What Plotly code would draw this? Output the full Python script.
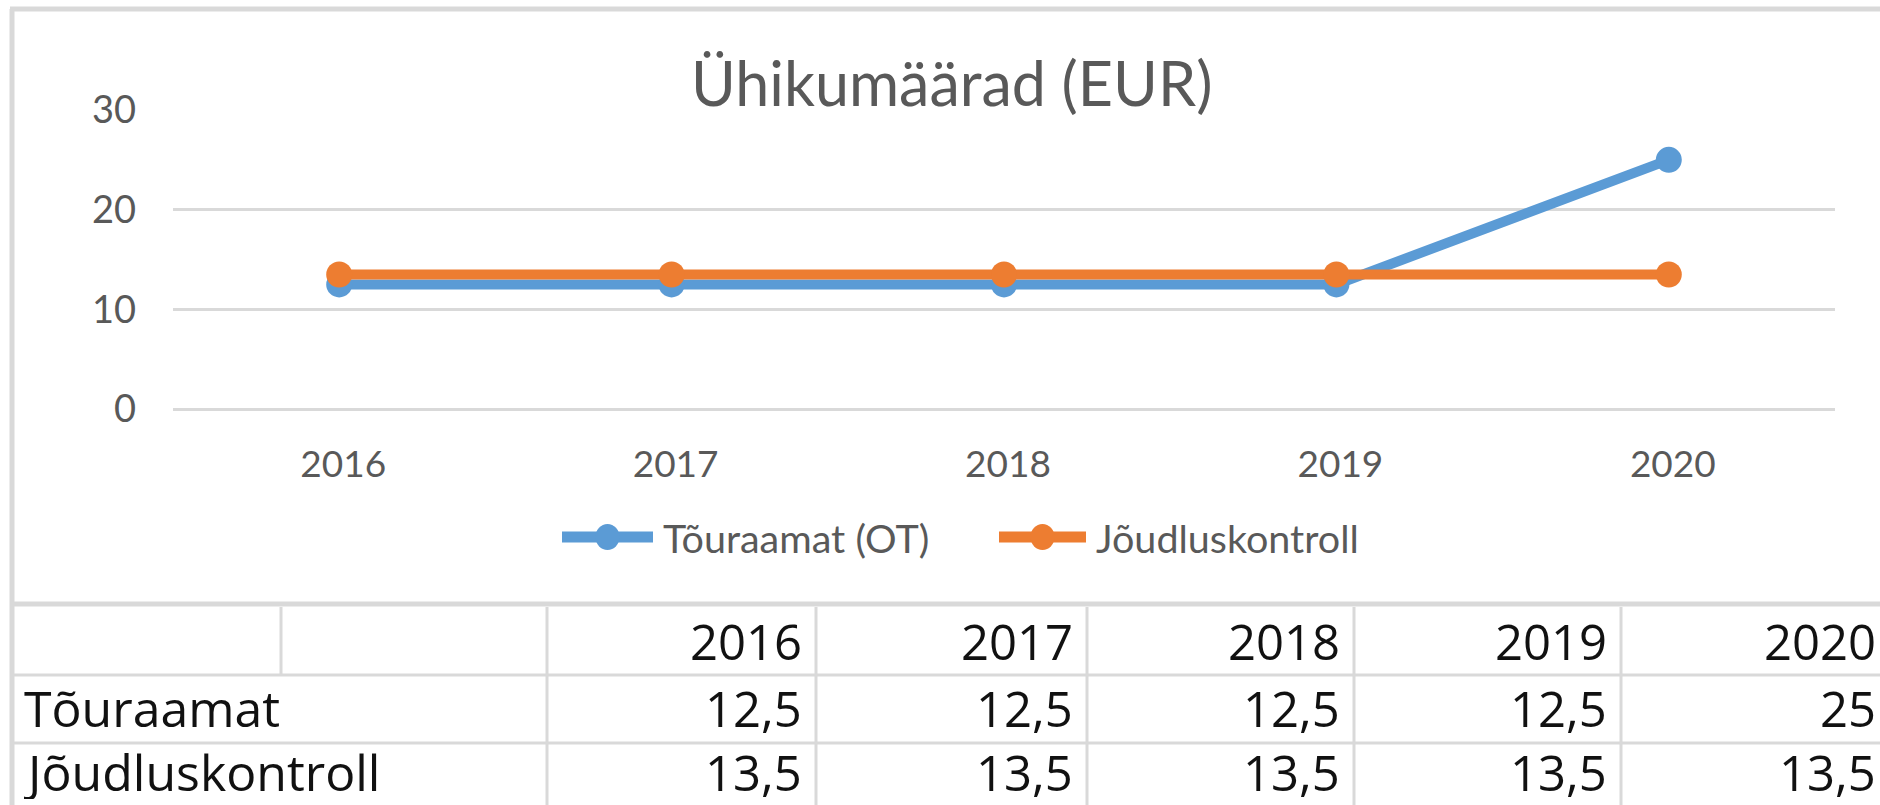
import plotly.graph_objects as go

# ---------------- data ----------------
years = ["2016", "2017", "2018", "2019", "2020"]
series_names = ["Tõuraamat (OT)", "Jõudluskontroll"]
touraamat = [12.5, 12.5, 12.5, 12.5, 25]
joudluskontroll = [13.5, 13.5, 13.5, 13.5, 13.5]
table_row_labels = ["Tõuraamat", "Jõudluskontroll"]
title_text = "Ühikumäärad (EUR)"
y_ticks = [0, 10, 20, 30]

# ---------------- style ----------------
W, H = 1880, 805
L, R, T, B = 173, 1835, 110, 409          # plot area in pixels
BLUE, ORANGE = "#5B9BD5", "#ED7D31"
GRID = "#D9D9D9"
TXT = "#595959"
CHART_FONT = "Lato"
TABLE_FONT = "Open Sans"


def px(x):
    return (x - L) / (R - L)


def py(y):
    return (B - y) / (B - T)


def fmt(v):
    s = f"{v:g}"
    return s.replace(".", ",")


fig = go.Figure()
for name, vals, col in [(series_names[0], touraamat, BLUE), (series_names[1], joudluskontroll, ORANGE)]:
    fig.add_trace(go.Scatter(
        x=years, y=vals, name=name, mode="lines+markers",
        line=dict(color=col, width=10), marker=dict(size=26, color=col),
        showlegend=False, cliponaxis=False,
    ))

shapes = []
annotations = []

# chart frame (left, top, bottom)
frame_w = 5
shapes.append(dict(type="line", xref="paper", yref="paper", x0=px(12), x1=px(12), y0=py(9), y1=py(H + 10),
                   line=dict(color=GRID, width=frame_w)))
shapes.append(dict(type="line", xref="paper", yref="paper", x0=px(10), x1=px(W + 10), y0=py(9), y1=py(9),
                   line=dict(color=GRID, width=frame_w)))
shapes.append(dict(type="line", xref="paper", yref="paper", x0=px(10), x1=px(W + 10), y0=py(604), y1=py(604),
                   line=dict(color=GRID, width=frame_w)))

# title (white box hides the top gridline as in the original)
annotations.append(dict(text=title_text, xref="paper", yref="paper", x=px(951), y=py(82),
                        xanchor="center", yanchor="middle", showarrow=False, bgcolor="white",
                        borderpad=0, font=dict(family=CHART_FONT, size=61, color=TXT)))

# legend (drawn manually to get the long Excel-style line symbols)
legend_items = [(series_names[0], BLUE, 557, 658), (series_names[1], ORANGE, 994, 1091)]
LEG_Y = 537
for name, col, x0, x1 in legend_items:
    shapes.append(dict(type="line", xref="paper", yref="paper", x0=px(x0 + 5), x1=px(x1 - 5), y0=py(LEG_Y), y1=py(LEG_Y),
                       line=dict(color=col, width=11)))
    shapes.append(dict(type="circle", xref="paper", yref="paper", fillcolor=col, line=dict(color=col, width=0),
                       x0=px((x0 + x1) / 2 - 12), x1=px((x0 + x1) / 2 + 12), y0=py(LEG_Y + 13), y1=py(LEG_Y - 13)))
    annotations.append(dict(text=name, xref="paper", yref="paper", x=px(x1 + 3), y=py(LEG_Y),
                            xanchor="left", yanchor="middle", showarrow=False,
                            font=dict(family=CHART_FONT, size=39.5, color=TXT)))

# data table
row_edges = [607, 675, 743, 811]
row_text_y = [641, 708, 772]          # last row is cropped by the image edge
col_edges = [12, 547, 816, 1087, 1354, 1621, 1890]
thin = 3
for yy in row_edges[1:]:
    shapes.append(dict(type="line", xref="paper", yref="paper", x0=px(12), x1=px(W + 10), y0=py(yy), y1=py(yy),
                       line=dict(color=GRID, width=thin)))
for xx in col_edges[1:]:
    shapes.append(dict(type="line", xref="paper", yref="paper", x0=px(xx), x1=px(xx), y0=py(row_edges[0]), y1=py(H + 10),
                       line=dict(color=GRID, width=thin)))
shapes.append(dict(type="line", xref="paper", yref="paper", x0=px(281), x1=px(281), y0=py(row_edges[0]), y1=py(row_edges[1]),
                   line=dict(color=GRID, width=thin)))

NUM_SIZE = 49
LAB_SIZE = 50
TBL_COL = "#111111"
for j, yr in enumerate(years):
    annotations.append(dict(text=yr, xref="paper", yref="paper", x=px(col_edges[j + 2] - 12),
                            y=py(row_text_y[0]), xanchor="right", yanchor="middle",
                            height=58, showarrow=False,
                            font=dict(family=TABLE_FONT, size=NUM_SIZE, color=TBL_COL)))
for i, (lab, vals) in enumerate(zip(table_row_labels, [touraamat, joudluskontroll])):
    yc = py(row_text_y[i + 1])
    annotations.append(dict(text=lab, xref="paper", yref="paper", x=px(22), y=yc, xanchor="left",
                            yanchor="middle", height=54, showarrow=False,
                            font=dict(family=TABLE_FONT, size=LAB_SIZE, color=TBL_COL)))
    for j, v in enumerate(vals):
        annotations.append(dict(text=fmt(v), xref="paper", yref="paper", x=px(col_edges[j + 2] - 12), y=yc,
                                xanchor="right", yanchor="middle", height=54, showarrow=False,
                                font=dict(family=TABLE_FONT, size=NUM_SIZE, color=TBL_COL)))

fig.update_layout(
    width=W, height=H, autosize=False,
    margin=dict(l=L, r=W - R, t=T, b=H - B, pad=0),
    paper_bgcolor="white", plot_bgcolor="white",
    showlegend=False, shapes=shapes, annotations=annotations,
    xaxis=dict(type="category", range=[-0.5, 4.5], showgrid=False, showline=False, zeroline=False,
               ticks="", tickfont=dict(family=CHART_FONT, size=37, color=TXT), ticklabelstandoff=30,
               ticklabelshift=4),
    yaxis=dict(range=[0, 30], tickvals=y_ticks, showgrid=True, gridcolor=GRID, gridwidth=3,
               zeroline=True, zerolinecolor=GRID, zerolinewidth=3, showline=False, ticks="",
               tickfont=dict(family=CHART_FONT, size=38, color=TXT), ticklabelstandoff=36),
)

fig.write_html("out.html", config={"displayModeBar": False},
               post_script="document.body.style.margin='0';document.body.style.overflow='hidden';")
